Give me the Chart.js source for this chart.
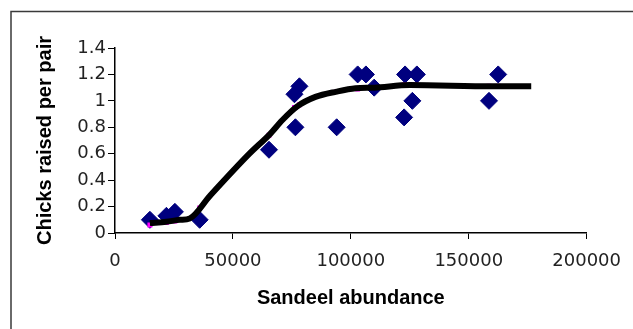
<!DOCTYPE html>
<html>
<head>
<meta charset="utf-8">
<script src="https://cdn.jsdelivr.net/npm/chart.js@4/dist/chart.umd.min.js"></script>
<style>
html,body{margin:0;padding:0;background:#fff;}
#wrap{width:633px;height:329px;position:relative;}
</style>
</head>
<body>
<div id="wrap"><canvas id="c" width="633" height="329"></canvas></div>
<script>
// Observed data (sandeel abundance vs chicks raised per pair)
const obsX = [14800, 21800, 25400, 35900, 65300, 76100, 78200, 76500, 94000, 102900, 106400, 109900, 123000, 128000, 126100, 122600, 162500, 158600];
const obsY = [0.10, 0.13, 0.16, 0.10, 0.63, 1.05, 1.11, 0.80, 0.80, 1.20, 1.20, 1.10, 1.20, 1.20, 1.00, 0.875, 1.20, 1.00];

// Fitted values at the observed abundances (magenta markers)
const fitAtObsY = [0.06, 0.08, 0.09, 0.19, 0.74, 0.95, 0.97, 0.95, 1.07, 1.09, 1.10, 1.10, 1.12, 1.12, 1.12, 1.12, 1.11, 1.11];

// Fitted curve
const fitX = [14800, 21800, 27500, 31700, 40200, 57000, 65500, 71000, 77000, 85000, 94000, 102000, 110000, 125000, 160000, 176500];
const fitY = [0.075, 0.085, 0.10, 0.11, 0.28, 0.60, 0.745, 0.855, 0.955, 1.03, 1.07, 1.095, 1.10, 1.12, 1.11, 1.11];

const xTicks = [0, 50000, 100000, 150000, 200000];
const yTicks = [0, 0.2, 0.4, 0.6, 0.8, 1, 1.2, 1.4];

const xTitle = 'Sandeel abundance';
const yTitle = 'Chicks raised per pair';

const toPts = (xs, ys) => xs.map((x, i) => ({x: x, y: ys[i]}));

const frame = {
  id: 'frame',
  afterDraw(chart) {
    const ctx = chart.ctx;
    ctx.save();
    ctx.strokeStyle = '#3a3a3a';
    ctx.lineWidth = 1.5;
    ctx.beginPath();
    ctx.moveTo(11, 340);
    ctx.lineTo(11, 11.5);
    ctx.lineTo(640, 11.5);
    ctx.stroke();
    ctx.restore();
  }
};
const bg = {
  id: 'bg',
  beforeDraw(chart) {
    const ctx = chart.ctx;
    ctx.save();
    ctx.fillStyle = '#fff';
    ctx.fillRect(0, 0, chart.width, chart.height);
    ctx.restore();
  }
};

const tickFont = {family: 'DejaVu Sans, sans-serif', size: 18};
const titleFont = {family: 'Liberation Sans, Arial, sans-serif', size: 20, weight: 'bold'};

new Chart(document.getElementById('c'), {
  type: 'scatter',
  data: {
    datasets: [
      {
        label: 'Observed',
        data: toPts(obsX, obsY),
        pointStyle: 'rectRot',
        pointRadius: 8.5,
        backgroundColor: '#00007f',
        borderColor: '#00007f',
        borderWidth: 1,
        order: 3
      },
      {
        label: 'Fitted points',
        data: toPts(obsX, fitAtObsY),
        pointStyle: 'rect',
        pointRadius: 3.5,
        backgroundColor: '#ff00ff',
        borderColor: '#ff00ff',
        borderWidth: 0,
        order: 2
      },
      {
        label: 'Fit',
        data: toPts(fitX, fitY),
        showLine: true,
        borderColor: '#000',
        borderWidth: 6,
        borderJoinStyle: 'round',
        pointRadius: 0,
        cubicInterpolationMode: 'monotone',
        fill: false,
        order: 1
      }
    ]
  },
  options: {
    responsive: false,
    animation: false,
    devicePixelRatio: 1,
    layout: {padding: {left: 0, right: 45, top: 48, bottom: 0}},
    plugins: {legend: {display: false}, tooltip: {enabled: false}},
    scales: {
      x: {
        type: 'linear',
        min: 0, max: 200000,
        afterBuildTicks(axis) { axis.ticks = xTicks.map(v => ({value: v})); },
        afterFit(axis) { axis.height = 96; },
        grid: {display: true, drawOnChartArea: false, drawTicks: true, tickLength: 6, color: '#000', lineWidth: 1},
        border: {display: true, color: '#000', width: 1.5},
        ticks: {
          color: '#222',
          padding: 12,
          maxRotation: 0,
          font: tickFont,
          callback: v => String(v)
        },
        title: {
          display: true, text: xTitle, color: '#000',
          padding: {top: 0, bottom: 19},
          font: titleFont
        }
      },
      y: {
        type: 'linear',
        min: 0, max: 1.4,
        afterBuildTicks(axis) { axis.ticks = yTicks.map(v => ({value: v})); },
        afterFit(axis) { axis.width = 115; },
        grid: {display: true, drawOnChartArea: false, drawTicks: true, tickLength: 7, color: '#000', lineWidth: 1},
        border: {display: true, color: '#000', width: 1.5},
        ticks: {
          color: '#222',
          padding: 2,
          font: tickFont,
          callback: v => String(Math.round(v * 10) / 10)
        },
        title: {
          display: true, text: yTitle, color: '#000',
          padding: {top: 33, bottom: 0},
          font: titleFont
        }
      }
    }
  },
  plugins: [bg, frame]
});
</script>
</body>
</html>
